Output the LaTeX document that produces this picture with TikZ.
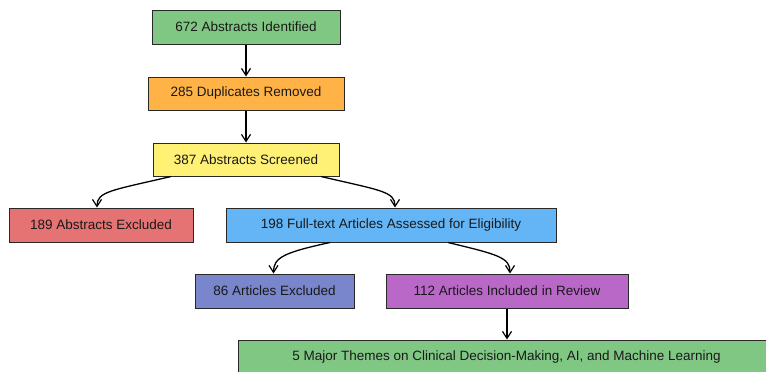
\documentclass[tikz,border=0pt]{standalone}
\usepackage{fontspec}
\setmainfont{Liberation Sans}
\usetikzlibrary{arrows.meta,calc}
\definecolor{cgreen}{RGB}{129,199,132}
\definecolor{corange}{RGB}{255,179,71}
\definecolor{cyellow}{RGB}{255,241,118}
\definecolor{cred}{RGB}{229,115,115}
\definecolor{cblue}{RGB}{100,181,246}
\definecolor{cindigo}{RGB}{121,134,203}
\definecolor{cpurple}{RGB}{186,104,200}
\definecolor{cline}{RGB}{40,40,40}
\tikzset{
  box/.style={draw=cline, line width=1pt, inner sep=0pt, font=\fontsize{13.5}{16}\selectfont, text=black!90, minimum height=34pt},
  conn/.style={draw=black, line width=1.3pt, -{Straight Barb[length=7pt,width=9pt,line width=1.2pt]}}
}
\begin{document}
\begin{tikzpicture}[x=1pt,y=-1pt]
\clip (0,0) rectangle (766,372);
\fill[white] (0,0) rectangle (766,372);
\node[box, fill=cgreen,  minimum width=188pt] (n1) at (246,27) {672 Abstracts Identified};
\node[box, fill=corange, minimum width=196pt, minimum height=33pt] (n2) at (246,93.5) {285 Duplicates Removed};
\node[box, fill=cyellow, minimum width=186pt, minimum height=33pt] (n3) at (246,159.5) {387 Abstracts Screened};
\node[box, fill=cred,    minimum width=184pt] (n4) at (101,225) {189 Abstracts Excluded};
\node[box, fill=cblue,   minimum width=330pt] (n5) at (391,225) {198 Full-text Articles Assessed for Eligibility};
\node[box, fill=cindigo, minimum width=159pt] (n6) at (274.5,291) {86 Articles Excluded};
\node[box, fill=cpurple, minimum width=242pt] (n7) at (507,291) {112 Articles Included in Review};
\node[box, fill=cgreen,  minimum width=537pt] (n8) at (506.5,357) {5 Major Themes on Clinical Decision-Making, AI, and Machine Learning};
\draw[conn] (n1.south) -- (n2.north);
\draw[conn] (n2.south) -- (n3.north);
\draw[conn] ([xshift=-75pt]n3.south) .. controls ++(-60,14) and ++(0,-16) .. ([xshift=-4pt]n4.north);
\draw[conn] ([xshift=75pt]n3.south) .. controls ++(60,14) and ++(0,-16) .. ([xshift=4pt]n5.north);
\draw[conn] ([xshift=-61pt]n5.south) .. controls ++(-46,10) and ++(0,-16) .. ([xshift=-1pt]n6.north);
\draw[conn] ([xshift=57pt]n5.south) .. controls ++(50,12) and ++(0,-16) .. ([xshift=3pt]n7.north);
\draw[conn] (n7.south) -- (n7.south |- n8.north);
\end{tikzpicture}
\end{document}
